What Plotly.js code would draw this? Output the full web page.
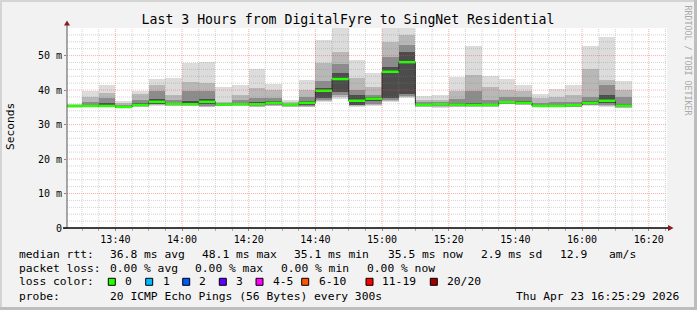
<!DOCTYPE html>
<html><head><meta charset="utf-8">
<script src="https://cdn.plot.ly/plotly-3.0.1.min.js"></script>
<style>html,body{margin:0;padding:0;background:#f2f2f2;overflow:hidden}#chart{width:697px;height:310px}</style>
</head><body><div id="chart"></div>
<script>
// ---- data (5-minute steps, end time of each step) ----
const stepEnds = ["13:30","13:35","13:40","13:45","13:50","13:55","14:00","14:05","14:10","14:15","14:20","14:25","14:30","14:35","14:40","14:45","14:50","14:55","15:00","15:05","15:10","15:15","15:20","15:25","15:30","15:35","15:40","15:45","15:50","15:55","16:00","16:05","16:10","16:15"];
const median  = [35.4,35.4,35.4,35.1,35.7,36.6,36.0,35.9,36.6,35.8,35.9,35.9,36.3,35.8,36.3,39.8,43.2,36.9,37.5,45.3,48.1,35.7,35.9,35.8,35.7,35.7,36.5,36.3,35.4,35.4,35.6,36.3,36.9,35.5];
const pingMin = [34.9,35.0,35.0,34.7,35.0,35.5,35.4,35.3,35.0,35.3,35.3,35.0,35.3,35.0,35.0,36.4,37.3,35.0,35.4,36.6,37.6,35.0,34.8,35.0,35.0,35.0,35.9,35.7,35.0,35.0,35.0,35.4,35.0,34.7];
const pingMax = [36.1,39.8,41.5,36.8,39.8,43.2,43.6,47.9,48.2,40.8,41.5,46.0,41.9,37.1,42.9,54.5,60.0,48.7,44.9,62.0,62.0,38.4,38.7,43.9,52.7,44.2,43.2,41.5,38.9,40.3,41.5,52.7,55.5,42.6];
const band2Lo = [35.0,35.1,35.1,34.8,35.1,35.7,35.5,35.4,35.2,35.4,35.4,35.2,35.5,35.2,35.2,36.8,38.0,35.3,35.7,36.9,37.9,35.2,35.0,35.2,35.2,35.2,36.0,35.8,35.1,35.1,35.1,35.6,35.3,34.9];
const band2Hi = [35.8,37.9,39.2,36.2,38.9,41.5,38.6,42.2,42.0,36.6,38.6,40.5,40.0,36.4,40.0,47.8,51.0,43.4,41.0,54.0,56.0,37.0,37.2,39.8,44.4,41.0,40.0,39.6,37.6,38.1,38.6,46.0,42.9,40.0];
const band3Lo = [35.1,35.2,35.2,34.9,35.3,35.9,35.7,35.6,35.5,35.5,35.6,35.4,35.7,35.4,35.5,37.2,38.6,35.6,36.0,37.2,38.3,35.3,35.3,35.4,35.3,35.3,36.1,35.9,35.2,35.2,35.2,35.8,35.6,35.0];
const band3Hi = [35.6,36.6,37.6,35.7,37.1,39.8,37.0,39.6,39.8,36.2,37.1,37.6,37.6,36.0,38.1,42.5,47.5,40.0,38.6,49.5,53.0,36.4,36.5,37.3,39.6,37.1,38.1,37.9,36.3,36.5,36.6,38.1,41.5,38.1];
const band4Lo = [35.2,35.2,35.2,35.0,35.4,36.1,35.8,35.7,36.0,35.6,35.7,35.6,35.9,35.6,35.8,37.6,39.5,35.8,36.8,37.8,39.0,35.5,35.6,35.6,35.5,35.5,36.2,36.0,35.3,35.3,35.4,36.0,36.2,35.3];
const band4Hi = [35.5,35.8,36.2,35.4,36.3,37.4,36.3,36.8,37.4,35.9,36.2,36.4,36.8,35.9,36.9,40.6,45.0,38.5,37.9,46.8,51.0,35.9,36.1,36.2,36.3,36.0,36.9,36.8,35.6,35.6,35.8,36.9,38.5,36.0];

const yTickVals = [0,10,20,30,40,50];
const yTickText = ["0","10 m","20 m","30 m","40 m","50 m"];

const titleText = "Last 3 Hours from DigitalFyre to SingNet Residential";
const yTitle = "Seconds";
const watermark = "RRDTOOL / TOBI OETIKER";
const row1 = [["median rtt:",16.7],["36.8 ms avg",107.7],["48.1 ms max",200],["35.1 ms min",292.3],["35.5 ms now",386.3],["2.9 ms sd",479.3],["12.9",558.3],["am/s",607]];
const row2 = [["packet loss:",16.7],["0.00 % avg",107.7],["0.00 % max",193.3],["0.00 % min",279.3],["0.00 % now",365.3]];
const lossLabels = ["0","1","2","3","4-5","6-10","11-19","20/20"];
const lossColors = ["#26ff00","#00b8ff","#0059ff","#5e00ff","#ff00ff","#ff5500","#ff0000","#a10000"];
const row4 = [["probe:",16.7],["20 ICMP Echo Pings (56 Bytes) every 300s",107.7]];
const stamp = "Thu Apr 23 16:25:29 2026";

// ---- geometry ----
const W=697,H=310,L=67,R=30,T=28,B=82;
const PW=W-L-R, PH=H-T-B;
const px2x = p => (p-L)/PW;
const py2y = p => (H-B-p)/PH;
const t0 = Date.UTC(2026,3,23,13,25,29), t1 = Date.UTC(2026,3,23,16,25,29);
const yMax = 58;
const STEP = 300000;

const ends = stepEnds.map(s => { const [h,m]=s.split(":").map(Number); return Date.UTC(2026,3,23,h,m,0); });
const centers = ends.map(e => e - STEP/2);

function band(lo, hi, color){
  return {type:"bar", x:centers, base:lo, y:hi.map((v,i)=>v-lo[i]), width:ends.map(()=>STEP),
    marker:{color:color, line:{width:0}}, hoverinfo:"skip", showlegend:false};
}
const traces = [
  band(pingMin, pingMax, "#dcdcdc"),
  band(band2Lo, band2Hi, "#b8b8b8"),
  band(band3Lo, band3Hi, "#8c8c8c"),
  band(band4Lo, band4Hi, "#4c4c4c")
];
// dark step line of median
const sx=[], sy=[];
ends.forEach((e,i)=>{ sx.push(e-STEP); sy.push(median[i]); });
sx.push(ends[ends.length-1]); sy.push(median[median.length-1]);
traces.push({type:"scatter", mode:"lines", x:sx, y:sy, line:{shape:"hv", color:"#202020", width:1}, hoverinfo:"skip", showlegend:false});
// loss-coloured median segments (2 px)
const gx=[], gy=[];
ends.forEach((e,i)=>{ gx.push(e-STEP, e, null); gy.push(median[i], median[i], null); });
traces.push({type:"scatter", mode:"lines", x:gx, y:gy, connectgaps:false, line:{color:lossColors[0], width:2.5}, hoverinfo:"skip", showlegend:false});

// ---- grid as shapes (drawn over the smoke, like rrdtool) ----
const shapes = [];
const minorC = "rgba(128,128,128,0.35)", majorC = "rgba(255,70,70,0.45)";
for (let t = Math.ceil(t0/STEP)*STEP; t < t1; t += STEP) {
  const major = (t % 1200000) === 0;
  shapes.push({type:"line", xref:"x", yref:"paper", x0:t, x1:t, y0:0, y1:1, layer:"above",
    line:{color: major?majorC:minorC, width:1, dash:"1px,1px"}});
}
for (let v = 2; v < yMax; v += 2) {
  const major = v % 10 === 0;
  shapes.push({type:"line", xref:"paper", yref:"y", x0:0, x1:1, y0:v, y1:v, layer:"above",
    line:{color: major?majorC:minorC, width:1, dash:"1px,1px"}});
}
// axes + arrows
shapes.push({type:"line", xref:"paper", yref:"paper", x0:0, x1:0, y0:0, y1:py2y(23), line:{color:"#555", width:1}, layer:"above"});
shapes.push({type:"line", xref:"paper", yref:"paper", x0:px2x(63), x1:px2x(669), y0:0, y1:0, line:{color:"#000", width:1.5}, layer:"above"});
shapes.push({type:"path", xref:"paper", yref:"paper", layer:"above",
  path:`M ${px2x(64)} ${py2y(25.5)} L ${px2x(70)} ${py2y(25.5)} L ${px2x(67)} ${py2y(20.5)} Z`,
  fillcolor:"#8b1a1a", line:{width:0}});
shapes.push({type:"path", xref:"paper", yref:"paper", layer:"above",
  path:`M ${px2x(668)} ${py2y(225)} L ${px2x(668)} ${py2y(231)} L ${px2x(673.5)} ${py2y(228)} Z`,
  fillcolor:"#8b1a1a", line:{width:0}});
// figure frame
const fr = (x0,x1,y0,y1,c)=>shapes.push({type:"rect", xref:"paper", yref:"paper", x0:px2x(x0), x1:px2x(x1), y0:py2y(y0), y1:py2y(y1), fillcolor:c, line:{width:0}, layer:"above"});
fr(0,697,0,2,"#d4d4d4"); fr(0,2,0,310,"#d4d4d4");
fr(694,697,0,310,"#bdbdbd"); fr(0,697,307,310,"#bdbdbd");

// loss colour squares
const sqX = [108.3,145.7,182.7,219.3,256,301.7,366,430.3];
const lblX = [123.3,160.7,197.3,234.3,270.7,316.7,380.3,445.3];
sqX.forEach((x,i)=>shapes.push({type:"rect", xref:"paper", yref:"paper", x0:px2x(x), x1:px2x(x+7), y0:py2y(278.3), y1:py2y(285.3),
  fillcolor:lossColors[i], line:{color:"#000", width:1}, layer:"above"}));

// ---- annotations ----
const mono = "DejaVu Sans Mono";
const ann = [];
const addRow = (items, y) => items.forEach(([t,x]) => ann.push({text:t, xref:"paper", yref:"paper", x:px2x(x), y:py2y(y),
  xanchor:"left", yanchor:"middle", showarrow:false, font:{family:mono, size:11.3, color:"#000"}}));
addRow(row1, 254.7);
addRow(row2, 268.2);
addRow([["loss color:",16.7]].concat(lossLabels.map((l,i)=>[l,lblX[i]])), 281.8);
addRow(row4, 296.3);
ann.push({text:stamp, xref:"paper", yref:"paper", x:px2x(680.5), y:py2y(296.3), xanchor:"right", yanchor:"middle", showarrow:false, font:{family:mono, size:11.3, color:"#000"}});
ann.push({text:yTitle, xref:"paper", yref:"paper", x:px2x(10.5), y:py2y(126.5), textangle:-90, xanchor:"center", yanchor:"middle", showarrow:false, font:{family:mono, size:11.2, color:"#000"}});
ann.push({text:watermark, xref:"paper", yref:"paper", x:px2x(687.5), y:py2y(60), textangle:90, xanchor:"center", yanchor:"middle", showarrow:false, font:{family:mono, size:8.3, color:"#a8a8a8"}});

const layout = {
  width:W, height:H, margin:{l:L, r:R, t:T, b:B, pad:0},
  paper_bgcolor:"#f2f2f2", plot_bgcolor:"#ffffff",
  barmode:"overlay", bargap:0, showlegend:false,
  title:{text:titleText, xref:"container", yref:"container", x:348/W, y:1-19/H, xanchor:"center", yanchor:"middle",
    font:{family:mono, size:13.2, color:"#000"}},
  xaxis:{type:"date", range:[t0,t1], dtick:1200000, tickformat:"%H:%M", showgrid:false, zeroline:false, showline:false,
    ticks:"outside", ticklen:2, tickcolor:"#888", tickfont:{family:mono, size:10, color:"#000"}, fixedrange:true,
    minor:{dtick:STEP, ticks:"outside", ticklen:2, tickcolor:"#aaa", showgrid:false}},
  yaxis:{range:[0,yMax], tickvals:yTickVals, ticktext:yTickText, showgrid:false, zeroline:false, showline:false,
    ticks:"outside", ticklen:2, tickcolor:"#888", tickfont:{family:mono, size:10, color:"#000"}, fixedrange:true},
  shapes:shapes, annotations:ann
};
Plotly.newPlot("chart", traces, layout, {displayModeBar:false, staticPlot:true});
</script></body></html>
